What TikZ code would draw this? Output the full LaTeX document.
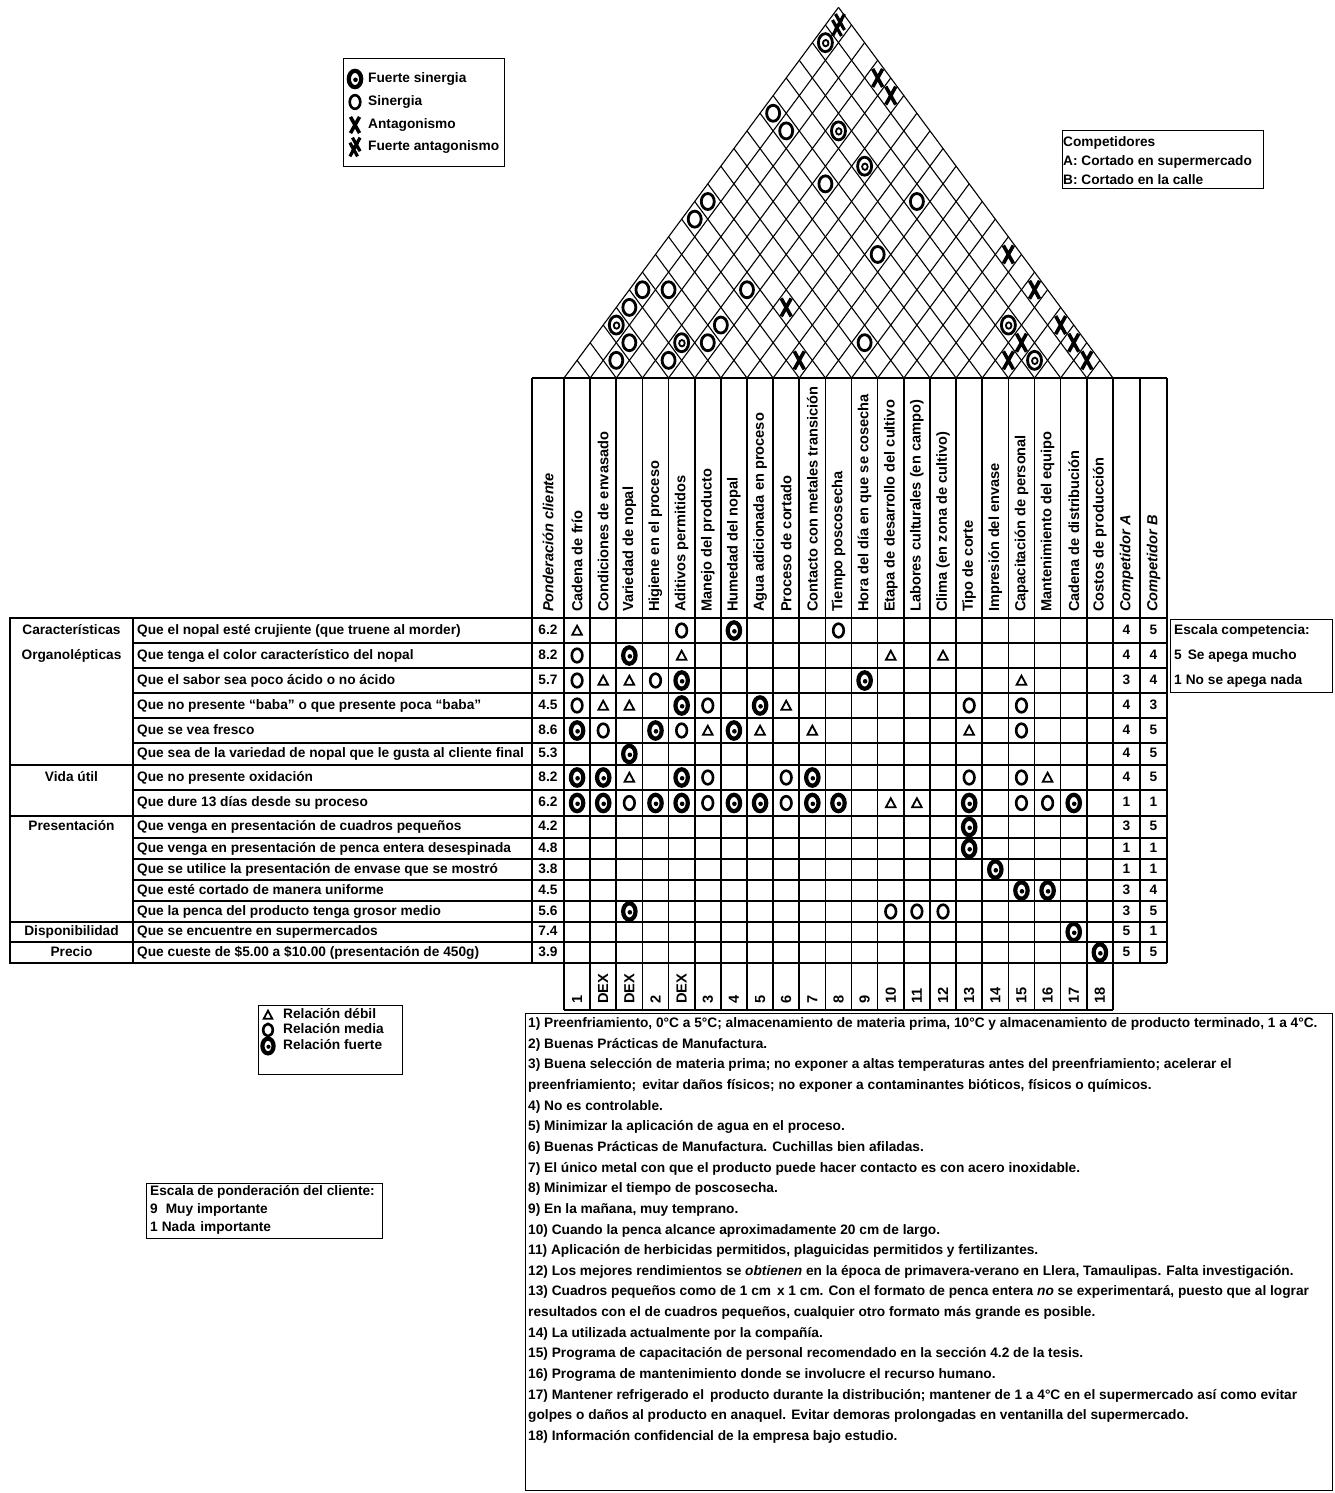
\documentclass[tikz,border=0pt]{standalone}
\usepackage{fontspec}
\setmainfont{Liberation Sans}
\newcommand\txtfont{\fontsize{13.7}{15}\selectfont\bfseries}
\newcommand\hdrfont{\fontsize{14.6}{16}\selectfont\bfseries}
\newcommand\notefont{\fontsize{13.7}{15}\selectfont\bfseries}

% row centres of the relationship matrix (index 1..15)
\def\rowcy{{0,630.5,655.5,680.5,705.5,730.5,754,777.5,803,827,848.5,869.5,890.5,911.5,932,952.5}}
% mark in the matrix: row, column, kind
\newcommand\mmark[3]{\pic at ({550.93+26.14*#2},{\rowcy[#1]}) {#3};}
% mark in the roof: column i, column j, kind
\newcommand\rmark[3]{\pic at ({564+13.07*(#1+#2-1)},{378-17.65*(#2-#1)}) {#3};}

\tikzset{
  gridline/.style={line width=1.6pt},
  roofline/.style={line width=1.1pt},
  boxline/.style={line width=0.9pt},
  catbox/.style={line width=2pt},
  txt/.style={font=\txtfont, inner sep=0pt, text height=10pt, text depth=3pt},
  hdr/.style={font=\hdrfont, inner sep=0pt, rotate=90, anchor=west},
  note/.style={font=\notefont, inner sep=0pt, anchor=west, text height=10pt, text depth=3pt},
  pics/weak/.style={code={\draw[line width=1.8pt,line join=miter] (-4.8,4.2) -- (4.8,4.2) -- (0,-4.8) -- cycle;}},
  pics/medium/.style={code={\draw[line width=2.6pt] (0,0) ellipse [x radius=5.3, y radius=6.8];}},
  pics/strong/.style={code={\draw[line width=4.2pt] (0,0) ellipse [x radius=6.2, y radius=8.2]; \fill (0.5,0.8) circle [radius=2.3];}},
  pics/rstrong/.style={code={\draw[line width=2.8pt] (0,0) ellipse [x radius=7, y radius=9]; \draw[line width=1.8pt] (0.3,0.5) ellipse [x radius=2.8, y radius=3.2];}},
  pics/rmedium/.style={code={\draw[line width=2.8pt] (0,0) ellipse [x radius=6.5, y radius=8];}},
  pics/cross/.style={code={\draw[line width=3.6pt] (-5,-9) -- (5,9) (5,-9) -- (-5,9);}},
  pics/dcross/.style={code={\draw[line width=3.2pt] (-6,-5) -- (3,11) (3,-5) -- (-6,11) (-3,-11) -- (6,5) (6,-11) -- (-3,5);}},
}

\begin{document}
\begin{tikzpicture}[x=1pt,y=-1pt]
\fill[white] (0,0) rectangle (1334,1493);
\useasboundingbox (0,0) rectangle (1334,1493);

% ---------------- roof (correlation matrix) ----------------
\begin{scope}[shift={(564pt,-378pt)}, x=26.14pt, y=17.65pt, roofline]
  \foreach \k in {0,...,21} {
    \draw (\k,0) -- ({(\k+21)/2},{21-\k});
    \draw (\k,0) -- ({\k/2},\k);
  }
\end{scope}

\rmark{1}{21}{dcross}
\rmark{1}{20}{rstrong}
\rmark{4}{21}{cross}
\rmark{5}{21}{cross}
\rmark{1}{16}{rmedium}
\rmark{2}{16}{rmedium}
\rmark{4}{18}{rstrong}
\rmark{6}{18}{rstrong}
\rmark{5}{16}{rmedium}
\rmark{1}{11}{rmedium}
\rmark{9}{19}{rmedium}
\rmark{1}{10}{rmedium}
\rmark{9}{16}{rmedium}
\rmark{14}{21}{cross}
\rmark{16}{21}{cross}
\rmark{1}{6}{rmedium}
\rmark{2}{7}{rmedium}
\rmark{5}{10}{rmedium}
\rmark{7}{11}{cross}
\rmark{1}{5}{rmedium}
\rmark{1}{4}{rstrong}
\rmark{2}{4}{rmedium}
\rmark{2}{3}{rmedium}
\rmark{4}{6}{rstrong}
\rmark{5}{8}{rmedium}
\rmark{5}{7}{rmedium}
\rmark{4}{5}{rmedium}
\rmark{9}{10}{cross}
\rmark{11}{13}{rmedium}
\rmark{16}{19}{rstrong}
\rmark{17}{19}{cross}
\rmark{17}{18}{cross}
\rmark{18}{19}{rstrong}
\rmark{18}{21}{cross}
\rmark{19}{21}{cross}
\rmark{20}{21}{cross}

% ---------------- header and matrix grid ----------------
\foreach \yy in {618,643,668,693,718,743,765,790,816,838,859,880,901,922,942,963}
  \draw[gridline] (133,\yy) -- (1167,\yy);
\draw[gridline] (532,378) -- (1167,378);
\draw[gridline] (133,618) -- (133,963);
\draw[gridline] (532,378) -- (532,963);
\foreach \k in {0,...,21}
  \draw[gridline] ({564+26.14*\k},378) -- ({564+26.14*\k},1010);
\draw[gridline] (1140,378) -- (1140,963);
\draw[gridline] (1167,378) -- (1167,963);
\draw[gridline] (564,1010) -- (1113,1010);

% category boxes
\draw[catbox] (10,618) rectangle (133,765);
\draw[catbox] (10,765) rectangle (133,816);
\draw[catbox] (10,816) rectangle (133,922);
\draw[catbox] (10,922) rectangle (133,942);
\draw[catbox] (10,942) rectangle (133,963);

\node[txt] (catA1) at (71.5,630.5) {Características};
\node[txt] (catA2) at (71.5,655.5) {Organolépticas};
\node[txt] (catB) at (71.5,777.5) {Vida útil};
\node[txt] (catC) at (71.5,827) {Presentación};
\node[txt] (catD) at (71.5,932) {Disponibilidad};
\node[txt] (catE) at (71.5,952.5) {Precio};

% customer requirements, weights and competitor scores
\foreach \i/\req/\w/\ca/\cb in {
  1/{Que el nopal esté crujiente (que truene al morder)}/6.2/4/5,
  2/{Que tenga el color característico del nopal}/8.2/4/4,
  3/{Que el sabor sea poco ácido o no ácido}/5.7/3/4,
  4/{Que no presente ``baba'' o que presente poca ``baba''}/4.5/4/3,
  5/{Que se vea fresco}/8.6/4/5,
  6/{Que sea de la variedad de nopal que le gusta al cliente final}/5.3/4/5,
  7/{Que no presente oxidación}/8.2/4/5,
  8/{Que dure 13 días desde su proceso}/6.2/1/1,
  9/{Que venga en presentación de cuadros pequeños}/4.2/3/5,
  10/{Que venga en presentación de penca entera desespinada}/4.8/1/1,
  11/{Que se utilice la presentación de envase que se mostró}/3.8/1/1,
  12/{Que esté cortado de manera uniforme}/4.5/3/4,
  13/{Que la penca del producto tenga grosor medio}/5.6/3/5,
  14/{Que se encuentre en supermercados}/7.4/5/1,
  15/{Que cueste de \$5.00 a \$10.00 (presentación de 450g)}/3.9/5/5}
{
  \pgfmathsetmacro\yc{\rowcy[\i]}
  \node[txt, anchor=west] (req\i) at (137,\yc) {\req};
  \node[txt] (w\i) at (548,\yc) {\w};
  \node[txt] (ca\i) at (1126.5,\yc) {\ca};
  \node[txt] (cb\i) at (1153.5,\yc) {\cb};
}

% column headings
\node[hdr] (h0) at (548,612) {\itshape Ponderación cliente};
\foreach \i/\t in {1/Cadena de frío, 2/Condiciones de envasado, 3/Variedad de nopal,
  4/Higiene en el proceso, 5/Aditivos permitidos, 6/Manejo del producto,
  7/Humedad del nopal, 8/Agua adicionada en proceso, 9/Proceso de cortado,
  10/Contacto con metales transición, 11/Tiempo poscosecha,
  12/Hora del día en que se cosecha, 13/Etapa de desarrollo del cultivo,
  14/Labores culturales (en campo), 15/Clima (en zona de cultivo), 16/Tipo de corte,
  17/Impresión del envase, 18/Capacitación de personal, 19/Mantenimiento del equipo,
  20/Cadena de distribución, 21/Costos de producción}
  \node[hdr] (h\i) at ({550.93+26.14*\i},612) {\t};
\node[hdr] (hA) at (1126.5,612) {\itshape Competidor A};
\node[hdr] (hB) at (1153.5,612) {\itshape Competidor B};

% reference numbers under the columns
\foreach \i/\t in {1/1, 2/DEX, 3/DEX, 4/2, 5/DEX, 6/3, 7/4, 8/5, 9/6, 10/7, 11/8,
  12/9, 13/10, 14/11, 15/12, 16/13, 17/14, 18/15, 19/16, 20/17, 21/18}
  \node[hdr] (n\i) at ({550.93+26.14*\i},1004) {\t};

% ---------------- relationship marks ----------------
\mmark{1}{1}{weak}\mmark{1}{5}{medium}\mmark{1}{7}{strong}\mmark{1}{11}{medium}
\mmark{2}{1}{medium}\mmark{2}{3}{strong}\mmark{2}{5}{weak}\mmark{2}{13}{weak}\mmark{2}{15}{weak}
\mmark{3}{1}{medium}\mmark{3}{2}{weak}\mmark{3}{3}{weak}\mmark{3}{4}{medium}\mmark{3}{5}{strong}
\mmark{3}{12}{strong}\mmark{3}{18}{weak}
\mmark{4}{1}{medium}\mmark{4}{2}{weak}\mmark{4}{3}{weak}\mmark{4}{5}{strong}\mmark{4}{6}{medium}
\mmark{4}{8}{strong}\mmark{4}{9}{weak}\mmark{4}{16}{medium}\mmark{4}{18}{medium}
\mmark{5}{1}{strong}\mmark{5}{2}{medium}\mmark{5}{4}{strong}\mmark{5}{5}{medium}\mmark{5}{6}{weak}
\mmark{5}{7}{strong}\mmark{5}{8}{weak}\mmark{5}{10}{weak}\mmark{5}{16}{weak}\mmark{5}{18}{medium}
\mmark{6}{3}{strong}
\mmark{7}{1}{strong}\mmark{7}{2}{strong}\mmark{7}{3}{weak}\mmark{7}{5}{strong}\mmark{7}{6}{medium}
\mmark{7}{9}{medium}\mmark{7}{10}{strong}\mmark{7}{16}{medium}\mmark{7}{18}{medium}\mmark{7}{19}{weak}
\mmark{8}{1}{strong}\mmark{8}{2}{strong}\mmark{8}{3}{medium}\mmark{8}{4}{strong}\mmark{8}{5}{strong}
\mmark{8}{6}{medium}\mmark{8}{7}{strong}\mmark{8}{8}{strong}\mmark{8}{9}{medium}\mmark{8}{10}{strong}
\mmark{8}{11}{strong}\mmark{8}{13}{weak}\mmark{8}{14}{weak}\mmark{8}{16}{strong}\mmark{8}{18}{medium}
\mmark{8}{19}{medium}\mmark{8}{20}{strong}
\mmark{9}{16}{strong}
\mmark{10}{16}{strong}
\mmark{11}{17}{strong}
\mmark{12}{18}{strong}\mmark{12}{19}{strong}
\mmark{13}{3}{strong}\mmark{13}{13}{medium}\mmark{13}{14}{medium}\mmark{13}{15}{medium}
\mmark{14}{20}{strong}
\mmark{15}{21}{strong}

% ---------------- legends ----------------
\draw[boxline] (343,58) rectangle (504,166);
\pic at (355,79) {strong};
\node[txt, anchor=west] (lg1) at (368,79) {Fuerte sinergia};
\pic at (355,102) {medium};
\node[txt, anchor=west] (lg2) at (368,102) {Sinergia};
\pic[scale=0.9] at (355,125) {cross};
\node[txt, anchor=west] (lg3) at (368,125) {Antagonismo};
\pic[scale=0.85] at (355,147) {dcross};
\node[txt, anchor=west] (lg4) at (368,147) {Fuerte antagonismo};

\draw[boxline] (1062,130) rectangle (1263,188);
\node[txt, anchor=west] (cp0) at (1063,143) {Competidores};
\node[txt, anchor=west] (cp1) at (1063,162) {A: Cortado en supermercado};
\node[txt, anchor=west] (cp2) at (1063,181) {B: Cortado en la calle};

\draw[boxline] (1170,619) rectangle (1332,692);
\node[txt, anchor=west] (es0) at (1174,631) {Escala competencia:};
\node[txt, anchor=west] (es1) at (1174,656) {5\hspace{6pt}Se apega mucho};
\node[txt, anchor=west] (es2) at (1174,681) {1\hspace{4pt}No se apega nada};

\draw[boxline] (258,1005) rectangle (402,1074);
\pic[scale=0.9] at (268,1015) {weak};
\node[txt, anchor=west] (rl1) at (283,1015) {Relación débil};
\pic[scale=0.9] at (268,1030) {medium};
\node[txt, anchor=west] (rl2) at (283,1030) {Relación media};
\pic[scale=0.9] at (268,1046) {strong};
\node[txt, anchor=west] (rl3) at (283,1046) {Relación fuerte};

\draw[boxline] (146,1183) rectangle (382,1238);
\node[txt, anchor=west] (sp0) at (150,1192) {Escala de ponderación del cliente:};
\node[txt, anchor=west] (sp1) at (150,1210) {9\hspace{8pt}Muy importante};
\node[txt, anchor=west] (sp2) at (150,1228) {1\hspace{4pt}Nada\hspace{5pt}importante};

% ---------------- notes ----------------
\draw[boxline] (525,1013) rectangle (1332,1490);
\node[note] (t1) at (528,1024) {1) Preenfriamiento, 0°C a 5°C; almacenamiento de materia prima, 10°C y almacenamiento de producto terminado, 1 a 4°C.};
\node[note] (t2) at (528,1044.65) {2) Buenas Prácticas de Manufactura.};
\node[note] (t3) at (528,1065.3) {3) Buena selección de materia prima; no exponer a altas temperaturas antes del preenfriamiento; acelerar el};
\node[note] (t3b) at (528,1085.95) {preenfriamiento;\hspace{6pt}evitar daños físicos; no exponer a contaminantes bióticos, físicos o químicos.};
\node[note] (t4) at (528,1106.6) {4) No es controlable.};
\node[note] (t5) at (528,1127.25) {5) Minimizar la aplicación de agua en el proceso.};
\node[note] (t6) at (528,1147.9) {6) Buenas Prácticas de Manufactura. Cuchillas bien afiladas.};
\node[note] (t7) at (528,1168.55) {7) El único metal con que el producto puede hacer contacto es con acero inoxidable.};
\node[note] (t8) at (528,1189.2) {8) Minimizar el tiempo de poscosecha.};
\node[note] (t9) at (528,1209.85) {9) En la mañana, muy temprano.};
\node[note] (t10) at (528,1230.5) {10) Cuando la penca alcance aproximadamente 20 cm de largo.};
\node[note] (t11) at (528,1251.15) {11) Aplicación de herbicidas permitidos, plaguicidas permitidos y fertilizantes.};
\node[note] (t12) at (528,1271.8) {12) Los mejores rendimientos se \textit{obtienen} en la época de primavera-verano en Llera, Tamaulipas. Falta investigación.};
\node[note] (t13) at (528,1292.45) {13) Cuadros pequeños como de 1 cm\hspace{6pt}x 1 cm. Con el formato de penca entera \textit{no} se experimentará, puesto que al lograr};
\node[note] (t13b) at (528,1313.1) {resultados con el de cuadros pequeños, cualquier otro formato más grande es posible.};
\node[note] (t14) at (528,1333.75) {14) La utilizada actualmente por la compañía.};
\node[note] (t15) at (528,1354.4) {15) Programa de capacitación de personal recomendado en la sección 4.2 de la tesis.};
\node[note] (t16) at (528,1375.05) {16) Programa de mantenimiento donde se involucre el recurso humano.};
\node[note] (t17) at (528,1395.7) {17) Mantener refrigerado el\hspace{6pt}producto durante la distribución; mantener de 1 a 4°C en el supermercado así como evitar};
\node[note] (t17b) at (528,1416.35) {golpes o daños al producto en anaquel. Evitar demoras prolongadas en ventanilla del supermercado.};
\node[note] (t18) at (528,1437) {18) Información confidencial de la empresa bajo estudio.};
\end{tikzpicture}
\end{document}
